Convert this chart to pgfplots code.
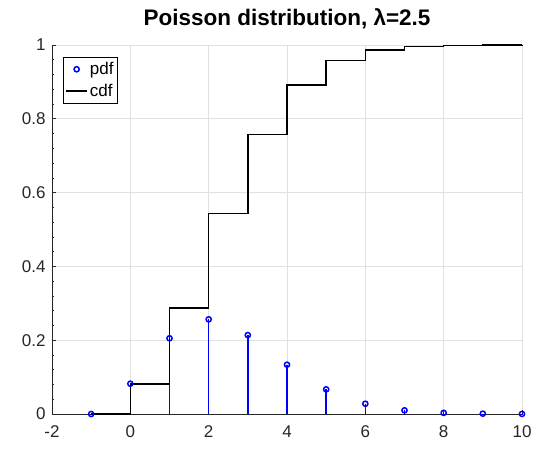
\documentclass[border=0pt]{standalone}
\usepackage{fontspec}
\setmainfont{Liberation Sans}
\usepackage{pgfplots}
\pgfplotsset{compat=1.18}
\definecolor{axgray}{RGB}{38,38,38}
\definecolor{gridgray}{RGB}{225,225,225}
\begin{document}
\begin{tikzpicture}
\begin{axis}[
  name=ax,
  scale only axis,
  width=470pt, height=369pt,
  xmin=-2, xmax=10, ymin=0, ymax=1,
  axis x line*=bottom, axis y line*=left,
  xtick={-2,0,...,10}, ytick={0,0.2,...,1},
  yticklabels={0,0.2,0.4,0.6,0.8,1},
  minor y tick num=4,
  grid=major, major grid style={gridgray, line width=0.7pt},
  tick align=inside, major tick length=4pt, minor tick length=2.5pt,
  tick style={axgray, line width=0.6pt},
  ticklabel style={font=\fontsize{17}{19}\selectfont, text=axgray},
  xticklabel style={yshift=-8pt},
  yticklabel style={xshift=-3pt},
  /pgf/number format/assume math mode=true,
  title={\bfseries Poisson distribution, λ=2.5},
  title style={font=\fontsize{22.5}{25}\selectfont, at={(0.5,1)}, anchor=base, yshift=13pt},
  axis line style={axgray, line width=0.8pt},
  clip=false,
  legend style={at={(rel axis cs:0,1)}, xshift=11pt, yshift=-12pt, anchor=north west, font=\fontsize{17}{19}\selectfont, draw=black, line width=0.7pt, inner xsep=2pt, inner ysep=4pt, row sep=6pt, cells={anchor=west}, nodes={inner xsep=2pt, inner ysep=1pt}},
  legend cell align=left,
]
\addplot[ycomb, blue, line width=1.5pt, mark=o, mark size=2.6pt, mark options={line width=1.5pt, solid},
  legend image code/.code={\draw[blue, line width=1.5pt] plot[only marks, mark=o, mark size=2.6pt] coordinates {(10.5pt,0pt)};}] coordinates {
(-1,0) (0,0.0821) (1,0.2052) (2,0.2565) (3,0.2138) (4,0.1336) (5,0.0668) (6,0.0278) (7,0.0099) (8,0.0031) (9,0.0009) (10,0.0002)
};
\addlegendentry{pdf}
\addplot[const plot, black, line width=1.6pt, no marks,
  legend image code/.code={\draw[black, line width=1.6pt] (0pt,0pt) -- (21pt,0pt);}] coordinates {
(-1,0) (0,0.0821) (1,0.2873) (2,0.5438) (3,0.7576) (4,0.8912) (5,0.9580) (6,0.9858) (7,0.9958) (8,0.9989) (9,0.9997) (10,0.9999)
};
\addlegendentry{cdf}
\end{axis}
\pgfresetboundingbox
\path ([xshift=-52pt,yshift=-36pt]ax.south west) rectangle ([xshift=11pt,yshift=45pt]ax.north east);
\end{tikzpicture}
\end{document}
